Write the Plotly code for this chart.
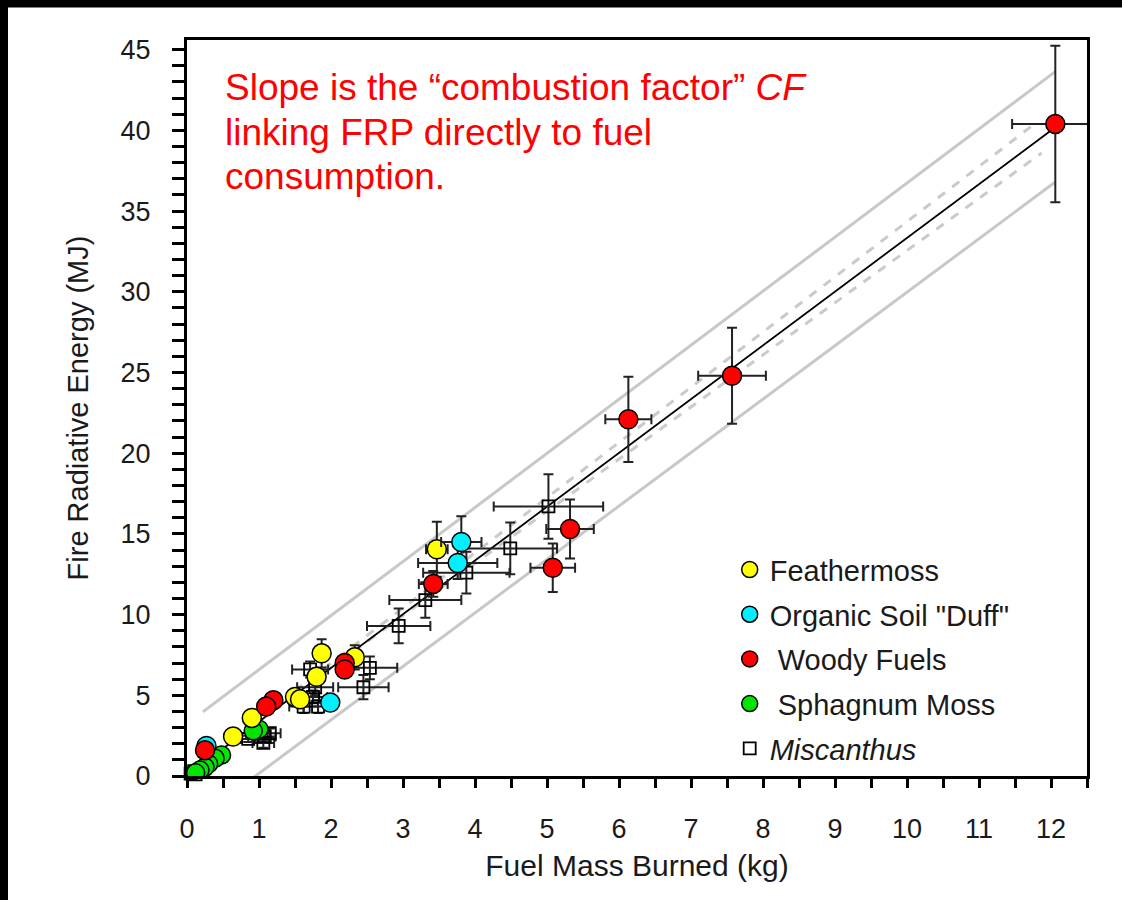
import plotly.graph_objects as go

# ---------------- data ----------------
feather_x = [3.47, 1.87, 2.33, 1.80, 1.50, 1.57, 0.90, 0.64]
feather_y = [14.05, 7.60, 7.35, 6.15, 4.90, 4.75, 3.60, 2.45]
feather_ex = [0.15, 0.10, 0.10, 0.10, 0.08, 0.08, 0.05, 0.05]
feather_ey = [1.70, 0.87, 0.75, 0.50, 0.30, 0.30, 0.20, 0.15]

duff_x = [3.81, 3.76, 1.99, 0.27]
duff_y = [14.50, 13.20, 4.55, 1.86]
duff_ex = [0.28, 0.55, 0.10, 0.05]
duff_ey = [1.60, 1.00, 0.20, 0.10]

woody_x = [12.06, 7.57, 6.13, 5.32, 5.08, 3.42, 2.19, 2.19, 1.20, 1.10, 0.25]
woody_y = [40.40, 24.80, 22.10, 15.30, 12.90, 11.90, 7.00, 6.60, 4.70, 4.30, 1.60]
woody_ex = [0.60, 0.47, 0.32, 0.33, 0.31, 0.20, 0.10, 0.10, 0.05, 0.05, 0.03]
woody_ey = [4.85, 2.97, 2.64, 1.83, 1.50, 0.80, 0.40, 0.40, 0.20, 0.20, 0.10]

sphag_x = [1.00, 0.92, 0.48, 0.39, 0.30, 0.25, 0.18, 0.12]
sphag_y = [2.90, 2.80, 1.30, 1.10, 0.75, 0.55, 0.37, 0.20]

misc_x = [5.02, 4.49, 3.88, 3.31, 2.94, 2.54, 2.45, 1.71, 1.78, 1.62, 1.82, 1.75,
          0.97, 1.08, 1.15, 1.06, 0.85, 0.10, 0.05, 0.20, 0.12]
misc_y = [16.70, 14.10, 12.60, 10.90, 9.30, 6.70, 5.50, 6.60, 5.50, 4.30, 4.30, 4.90,
          2.65, 2.45, 2.65, 2.05, 2.30, 0.30, 0.15, 0.35, 0.10]
misc_ex = [0.76, 0.65, 0.60, 0.50, 0.44, 0.38, 0.35, 0.25, 0.25, 0.20, 0.20, 0.20,
           0.15, 0.15, 0.15, 0.15, 0.10, 0.05, 0.05, 0.05, 0.05]
misc_ey = [2.00, 1.60, 1.30, 1.10, 1.07, 0.70, 0.75, 0.50, 0.50, 0.40, 0.40, 0.40,
           0.30, 0.30, 0.30, 0.30, 0.20, 0.10, 0.10, 0.10, 0.10]

fit_x = [0.05, 12.06]
fit_y = [0.20, 40.20]
conf_up_x = [1.50, 11.80]
conf_up_y = [5.28, 40.50]
conf_lo_x = [1.50, 11.87]
conf_lo_y = [5.09, 38.60]
pred_up_x = [0.22, 12.06]
pred_up_y = [3.97, 43.64]
pred_lo_x = [0.83, 12.06]
pred_lo_y = [-0.40, 36.80]

x_ticks = list(range(0, 13))
y_ticks = list(range(0, 46, 5))

note_lines = ["Slope is the \u201ccombustion factor\u201d <i>CF</i>",
              "linking FRP directly to fuel",
              "consumption."]

FONT = "Liberation Sans, Arial, sans-serif"

fig = go.Figure()

# prediction / confidence bands and fitted line
for xs, ys in [(pred_up_x, pred_up_y), (pred_lo_x, pred_lo_y)]:
    fig.add_trace(go.Scatter(x=xs, y=ys, mode="lines", showlegend=False,
                             line=dict(color="#c8c8c8", width=3)))
for xs, ys in [(conf_up_x, conf_up_y), (conf_lo_x, conf_lo_y)]:
    fig.add_trace(go.Scatter(x=xs, y=ys, mode="lines", showlegend=False,
                             line=dict(color="#cacaca", width=3, dash="dash")))
fig.add_trace(go.Scatter(x=fit_x, y=fit_y, mode="lines", showlegend=False,
                         line=dict(color="black", width=1.8)))

def err(arr):
    return dict(type="data", array=arr, symmetric=True, color="#222222",
                thickness=2, width=5)

fig.add_trace(go.Scatter(x=misc_x, y=misc_y, mode="markers", name="<i>Miscanthus</i>",
                         legendrank=5, legendgroup="e",
                         marker=dict(symbol="square-open", size=12, color="black",
                                     line=dict(width=1.8, color="black")),
                         error_x=err(misc_ex), error_y=err(misc_ey), cliponaxis=False))
fig.add_trace(go.Scatter(x=sphag_x, y=sphag_y, mode="markers", name="\u00a0Sphagnum Moss",
                         legendrank=4, legendgroup="d",
                         marker=dict(symbol="circle", size=18, color="#00e600",
                                     line=dict(width=1.5, color="black"))))
fig.add_trace(go.Scatter(x=feather_x, y=feather_y, mode="markers", name="Feathermoss",
                         legendrank=1, legendgroup="a",
                         marker=dict(symbol="circle", size=19, color="#ffff00",
                                     line=dict(width=1.5, color="black")),
                         error_x=err(feather_ex), error_y=err(feather_ey)))
fig.add_trace(go.Scatter(x=duff_x, y=duff_y, mode="markers", name='Organic Soil "Duff"',
                         legendrank=2, legendgroup="b",
                         marker=dict(symbol="circle", size=19, color="#00f0ff",
                                     line=dict(width=1.5, color="black")),
                         error_x=err(duff_ex), error_y=err(duff_ey)))
fig.add_trace(go.Scatter(x=woody_x, y=woody_y, mode="markers", name="\u00a0Woody Fuels",
                         legendrank=3, legendgroup="c",
                         marker=dict(symbol="circle", size=19, color="#ff0000",
                                     line=dict(width=1.5, color="black")),
                         error_x=err(woody_ex), error_y=err(woody_ey), cliponaxis=False))

note_y_px = [88, 132.5, 177]
annotations = [dict(
    xref="paper", yref="paper", x=0.040, y=(776 - py) / 736, xanchor="left", yanchor="middle",
    align="left", showarrow=False, text=t,
    font=dict(size=37, color="#ff0000", family=FONT)) for t, py in zip(note_lines, note_y_px)]

fig.update_layout(
    width=1122, height=900,
    margin=dict(l=187, r=35, t=40, b=124),
    paper_bgcolor="white", plot_bgcolor="white",
    font=dict(family=FONT, color="#1a1a1a"),
    legend=dict(x=0.603, y=0.315, xanchor="left", yanchor="top",
                bgcolor="rgba(0,0,0,0)", font=dict(size=29, color="#1a1a1a"),
                tracegroupgap=4, traceorder="grouped"),
    annotations=annotations,
    shapes=[
        dict(type="rect", xref="paper", yref="paper", x0=-0.3, x1=1.2,
             y0=(776 - 7.5) / 736, y1=1.2, fillcolor="black", line=dict(width=0), layer="above"),
        dict(type="rect", xref="paper", yref="paper", x0=-0.3, x1=(8 - 187) / 900,
             y0=-0.3, y1=1.2, fillcolor="black", line=dict(width=0), layer="above"),
    ],
)

fig.update_xaxes(
    range=[0, 12.5], tickvals=x_ticks, ticks="outside", ticklen=9, tickwidth=3,
    tickcolor="black", showline=True, linecolor="black", linewidth=3, mirror=True,
    showgrid=False, zeroline=False, tickfont=dict(size=27, color="#1a1a1a"),
    ticklabelstandoff=18,
    minor=dict(dtick=0.5, ticks="outside", ticklen=9, tickwidth=3, tickcolor="black"),
    title=dict(text="Fuel Mass Burned (kg)", font=dict(size=30, color="#1a1a1a"), standoff=12),
)
fig.update_yaxes(
    range=[0, 45.6], tickvals=y_ticks, ticks="outside", ticklen=12, tickwidth=3,
    tickcolor="black", showline=True, linecolor="black", linewidth=3, mirror=True,
    showgrid=False, zeroline=False, tickfont=dict(size=27, color="#1a1a1a"),
    ticklabelstandoff=16,
    minor=dict(dtick=1, ticks="outside", ticklen=12, tickwidth=3, tickcolor="black"),
    title=dict(text="Fire Radiative Energy (MJ)", font=dict(size=29, color="#1a1a1a"), standoff=24),
)

fig.write_html("out.html")
